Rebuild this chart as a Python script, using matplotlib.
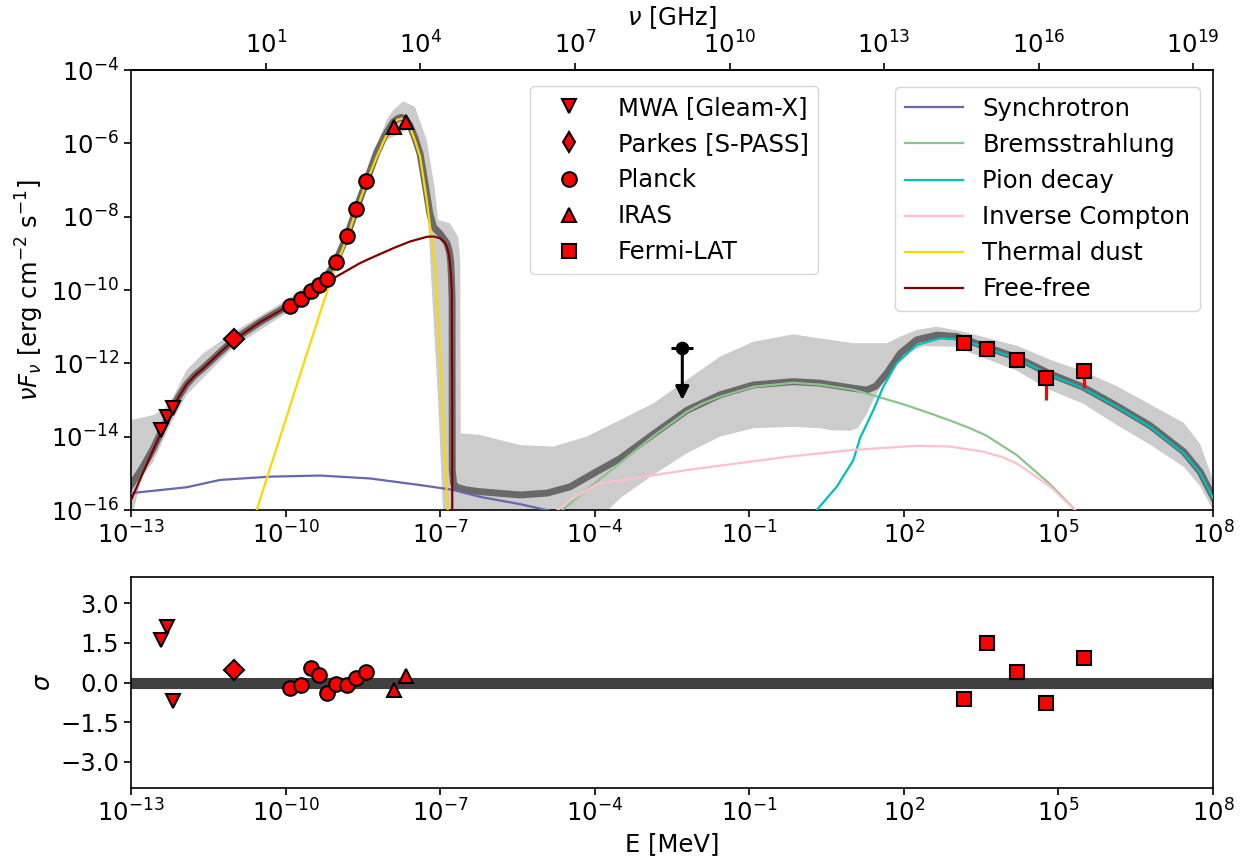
import numpy as np
import matplotlib
matplotlib.use("Agg")
import matplotlib.pyplot as plt
from matplotlib.lines import Line2D
from matplotlib.ticker import FixedLocator, NullLocator, LogFormatterSciNotation

# ---------------- measured SED points (log10 E [MeV], log10 nuFnu [erg cm^-2 s^-1]) ----------------
mwa_logE = [-12.42, -12.31, -12.18]
mwa_logF = [-13.82, -13.47, -13.23]
mwa_sigma = [1.60, 2.12, -0.70]

parkes_logE = [-11.00]
parkes_logF = [-11.34]
parkes_sigma = [0.48]

planck_logE = [-9.91, -9.71, -9.51, -9.35, -9.20, -9.02, -8.81, -8.63, -8.43]
planck_logF = [-10.43, -10.25, -10.03, -9.86, -9.70, -9.24, -8.53, -7.79, -7.03]
planck_sigma = [-0.22, -0.10, 0.55, 0.29, -0.38, -0.04, -0.10, 0.16, 0.38]

iras_logE = [-7.90, -7.67]
iras_logF = [-5.55, -5.41]
iras_sigma = [-0.29, 0.23]

fermi_logE = [3.16, 3.61, 4.20, 4.75, 5.50]
fermi_logF = [-11.45, -11.62, -11.91, -12.41, -12.20]
fermi_rel_err = [0.25, 0.25, 0.30, 0.74, 0.67]
fermi_sigma = [-0.64, 1.49, 0.40, -0.79, 0.93]

# upper limit
ul_logE = -2.30
ul_logF = -11.59
ul_logF_arrow_end = -13.0
ul_logE_halfwidth = 0.21

# ---------------- model components ----------------
sync_logE = [-13.0, -11.92, -11.27, -10.30, -9.33, -8.36, -7.39, -6.75, -6.23, -5.45, -4.81, -3.90]
sync_logF = [-15.54, -15.38, -15.18, -15.09, -15.06, -15.14, -15.32, -15.45, -15.64, -15.84, -16.04, -16.41]

brems_logE = [-4.96, -4.67, -4.16, -3.51, -2.86, -2.21, -1.90, -1.57, -0.92, -0.15, 0.37, 1.02,
              1.54, 2.00, 2.50, 2.90, 3.30, 3.60, 4.19, 4.84, 5.36, 5.61]
brems_logF = [-16.41, -16.05, -15.45, -14.72, -13.98, -13.32, -13.09, -12.91, -12.64, -12.53, -12.58,
              -12.72, -12.93, -13.12, -13.36, -13.56, -13.78, -13.97, -14.50, -15.30, -16.05, -16.41]

pion_logE = [0.12, 0.28, 0.70, 1.02, 1.15, 1.41, 1.60, 1.86, 2.25, 2.70, 3.16, 3.61, 4.19, 4.84,
             5.48, 6.13, 6.78, 7.43, 7.75, 8.0]
pion_logF = [-16.31, -16.05, -15.36, -14.64, -14.04, -13.27, -12.64, -12.00, -11.50, -11.32, -11.36,
             -11.59, -11.86, -12.32, -12.68, -13.18, -13.73, -14.45, -14.99, -15.67]

ic_logE = [-5.00, -4.80, -4.48, -3.95, -2.21, -0.27, 1.02, 2.25, 2.90, 3.54, 3.90, 4.19, 4.84, 5.36, 5.61]
ic_logF = [-16.31, -16.09, -15.73, -15.29, -14.91, -14.55, -14.36, -14.25, -14.27, -14.41, -14.55,
           -14.73, -15.36, -16.05, -16.41]

dust_logE = [-10.65, -10.56, -9.72, -9.07, -8.81, -8.63, -8.43, -8.23, -8.07, -7.91, -7.83, -7.75,
             -7.66, -7.59, -7.49, -7.39, -7.26, -7.16, -7.10, -6.99, -6.90, -6.85, -6.83]
dust_logF = [-16.40, -16.00, -12.32, -9.50, -8.60, -7.84, -7.07, -6.36, -5.86, -5.45, -5.36, -5.32,
             -5.39, -5.55, -5.91, -6.36, -7.55, -8.64, -9.36, -12.09, -14.82, -16.08, -16.54]

ff_logE = [-13.0, -12.57, -12.24, -12.08, -11.92, -11.76, -11.60, -11.30, -11.00, -10.50, -9.98,
           -9.07, -8.56, -8.36, -7.91, -7.59, -7.26, -7.13, -7.00, -6.91, -6.87, -6.83, -6.81,
           -6.79, -6.775, -6.765, -6.765]
ff_logF = [-15.73, -14.36, -13.36, -12.93, -12.57, -12.33, -12.14, -11.74, -11.36, -10.88, -10.46,
           -9.68, -9.27, -9.14, -8.86, -8.68, -8.55, -8.54, -8.59, -8.70, -8.82, -9.02, -9.27,
           -9.60, -10.00, -13.00, -16.80]

# total model and its uncertainty band
total_logE = [-13.0, -12.79, -12.57, -12.24, -12.08, -11.92, -11.76, -11.60, -11.30, -11.00,
              -10.50, -9.98, -9.51, -9.20, -9.02, -8.81, -8.63, -8.43, -8.23, -8.07,
              -7.91, -7.83, -7.75, -7.66, -7.59, -7.49, -7.39, -7.29, -7.20, -7.13,
              -7.00, -6.87, -6.82, -6.795, -6.78, -6.768, -6.765, -6.74, -6.68, -6.50,
              -6.23, -5.45, -4.93, -4.48, -3.97, -3.51, -2.86, -2.21, -1.57, -0.92,
              -0.15, 0.37, 1.02, 1.28, 1.46, 1.67, 1.93, 2.25, 2.64, 3.03,
              3.61, 4.19, 4.84, 5.48, 6.13, 6.78, 7.43, 7.75, 8.0]
total_logF = [-15.32, -14.88, -14.33, -13.35, -12.92, -12.57, -12.32, -12.13, -11.74, -11.35,
              -10.88, -10.45, -10.03, -9.62, -9.20, -8.53, -7.80, -7.03, -6.24, -5.78,
              -5.42, -5.33, -5.29, -5.36, -5.50, -5.85, -6.28, -7.12, -7.92, -8.28,
              -8.47, -8.72, -8.95, -9.24, -9.70, -10.30, -14.90, -15.27, -15.38, -15.45,
              -15.50, -15.59, -15.54, -15.37, -14.96, -14.60, -13.93, -13.28, -12.86, -12.59,
              -12.50, -12.54, -12.68, -12.73, -12.62, -12.27, -11.73, -11.36, -11.23, -11.27,
              -11.56, -11.84, -12.29, -12.65, -13.16, -13.70, -14.41, -14.96, -15.64]

band_hi_logE = [-13.0, -12.57, -12.37, -12.18, -11.92, -11.60, -11.00, -9.98, -9.20, -9.02,
                -8.81, -8.69, -8.30, -8.04, -7.91, -7.72, -7.49, -7.26, -7.10, -7.04,
                -6.81, -6.65, -6.61, -6.60, -6.23, -5.45, -4.80, -4.16, -3.51, -2.86,
                -2.21, -1.57, -0.92, -0.15, 0.37, 1.02, 1.67, 1.93, 2.25, 2.64,
                3.16, 4.19, 4.84, 5.48, 6.13, 6.78, 7.43, 7.75, 8.0]
band_hi_logF = [-13.55, -13.41, -13.27, -12.91, -12.18, -11.73, -11.14, -10.27, -9.50, -9.02,
                -8.35, -7.73, -6.36, -5.36, -5.09, -4.86, -5.00, -5.91, -7.27, -8.09,
                -8.18, -8.55, -9.18, -13.91, -13.95, -14.23, -14.27, -14.00, -13.55, -13.09,
                -12.45, -11.82, -11.41, -11.21, -11.32, -11.45, -11.45, -11.27, -11.09, -11.00,
                -11.14, -11.52, -11.90, -12.22, -12.62, -13.12, -13.62, -14.20, -15.18]

band_lo_logE = [-13.0, -12.79, -12.57, -12.24, -11.92, -11.60, -11.00, -9.98, -9.20, -8.81,
                -8.43, -8.04, -7.59, -7.36, -7.23, -7.16, -7.04, -6.93, -4.09, -3.51,
                -2.86, -2.21, -1.57, -0.92, -0.15, 0.37, 0.57, 0.96, 1.11, 1.27,
                1.46, 1.67, 1.99, 2.38, 3.03, 3.16, 4.19, 4.84, 5.48, 6.13,
                6.78, 7.43, 7.75, 8.0]
band_lo_logF = [-16.30, -15.10, -14.69, -13.68, -12.86, -12.40, -11.55, -10.63, -9.86, -8.75,
                -7.25, -5.91, -5.60, -6.82, -8.18, -10.00, -13.00, -16.50, -16.50, -15.68,
                -15.04, -14.45, -14.00, -13.77, -13.73, -13.77, -13.82, -13.84, -13.76, -13.41,
                -12.86, -12.32, -11.77, -11.53, -11.55, -11.64, -12.20, -12.73, -13.10, -13.68,
                -14.22, -14.82, -15.35, -16.00]

H_MEV_PER_GHZ = 4.135667696e-12

# ---------------- style ----------------
plt.rcParams.update({
    "font.family": "DejaVu Sans",
    "font.size": 17.5,
    "mathtext.fontset": "dejavusans",
    "axes.linewidth": 1.2,
    "xtick.major.size": 5,
    "ytick.major.size": 5,
    "xtick.major.width": 1.2,
    "ytick.major.width": 1.2,
    "legend.handlelength": 2.4,
})

def p10(v):
    return 10.0 ** np.asarray(v, dtype=float)

fig = plt.figure(figsize=(12.47, 8.61), dpi=100)
ax = fig.add_axes([131 / 1247, 351 / 861, 1082 / 1247, 440 / 861])
axr = fig.add_axes([131 / 1247, 73 / 861, 1082 / 1247, 211 / 861])

# uncertainty band and total model
band_x = np.concatenate([p10(band_hi_logE), p10(band_lo_logE)[::-1]])
band_y = np.concatenate([p10(band_hi_logF), p10(band_lo_logF)[::-1]])
ax.fill(band_x, band_y, color="#cccccc", lw=0, zorder=1)
ax.plot(p10(total_logE), p10(total_logF), color="dimgray", lw=5, zorder=2,
        solid_joinstyle="round")

# components
comp_lw = 1.6
h_sync, = ax.plot(p10(sync_logE), p10(sync_logF), color="#6767b0", lw=comp_lw, zorder=3, label="Synchrotron")
h_brem, = ax.plot(p10(brems_logE), p10(brems_logF), color="#8cc48c", lw=comp_lw, zorder=3, label="Bremsstrahlung")
h_pion, = ax.plot(p10(pion_logE), p10(pion_logF), color="c", lw=comp_lw, zorder=3, label="Pion decay")
h_ic, = ax.plot(p10(ic_logE), p10(ic_logF), color="pink", lw=comp_lw, zorder=3, label="Inverse Compton")
h_dust, = ax.plot(p10(dust_logE), p10(dust_logF), color="gold", lw=comp_lw, zorder=3, label="Thermal dust")
h_ff, = ax.plot(p10(ff_logE), p10(ff_logF), color="maroon", lw=comp_lw, zorder=3, label="Free-free")

# data points
mk = dict(ls="none", mfc="red", mec="black", mew=1.5, zorder=6)
ms = 10.5
fermi_F = p10(fermi_logF)
ax.errorbar(p10(fermi_logE), fermi_F, yerr=np.asarray(fermi_rel_err) * fermi_F, fmt="none",
            ecolor="red", elinewidth=2.2, zorder=5)
ax.plot(p10(mwa_logE), p10(mwa_logF), marker="v", ms=ms, **mk)
ax.plot(p10(parkes_logE), p10(parkes_logF), marker="D", ms=ms * 0.95, **mk)
ax.plot(p10(planck_logE), p10(planck_logF), marker="o", ms=ms, **mk)
ax.plot(p10(iras_logE), p10(iras_logF), marker="^", ms=ms, **mk)
ax.plot(p10(fermi_logE), fermi_F, marker="s", ms=ms, **mk)

# upper limit
ul_x = 10.0 ** ul_logE
ul_y = 10.0 ** ul_logF
ax.errorbar([ul_x], [ul_y],
            xerr=[[ul_x * (1 - 10.0 ** -ul_logE_halfwidth)], [ul_x * (10.0 ** ul_logE_halfwidth - 1)]],
            fmt="o", color="black", ms=8.8, elinewidth=2.2, zorder=6)
ax.annotate("", xy=(ul_x, 10.0 ** ul_logF_arrow_end), xytext=(ul_x, ul_y),
            arrowprops=dict(arrowstyle="-|>", color="black", lw=2.2, mutation_scale=20,
                            shrinkA=0, shrinkB=0), zorder=6)

# axes formatting
ax.set_xscale("log")
ax.set_yscale("log")
ax.set_xlim(1e-13, 1e8)
ax.set_ylim(1e-16, 1e-4)
xt = [10.0 ** k for k in range(-13, 9, 3)]
ax.xaxis.set_major_locator(FixedLocator(xt))
ax.xaxis.set_minor_locator(NullLocator())
ax.xaxis.set_major_formatter(LogFormatterSciNotation())
ax.yaxis.set_major_locator(FixedLocator([10.0 ** k for k in range(-16, -3, 2)]))
ax.yaxis.set_minor_locator(NullLocator())
ax.yaxis.set_major_formatter(LogFormatterSciNotation())
ax.set_ylabel(r"$\nu F_{\nu}$ [erg cm$^{-2}$ s$^{-1}$]")

sec = ax.secondary_xaxis("top", functions=(lambda e: np.asarray(e) / H_MEV_PER_GHZ,
                                          lambda n: np.asarray(n) * H_MEV_PER_GHZ))
sec.xaxis.set_major_locator(FixedLocator([10.0 ** k for k in range(1, 20, 3)]))
sec.xaxis.set_minor_locator(NullLocator())
sec.xaxis.set_major_formatter(LogFormatterSciNotation())
sec.set_xlabel(r"$\nu$ [GHz]")

# legends
proxy = dict(ls="none", mfc="red", mec="black", mew=1.5, ms=ms)
data_handles = [
    Line2D([], [], marker="v", **proxy),
    Line2D([], [], marker="d", **proxy),
    Line2D([], [], marker="o", **proxy),
    Line2D([], [], marker="^", **proxy),
    Line2D([], [], marker="s", **proxy),
]
data_labels = ["MWA [Gleam-X]", "Parkes [S-PASS]", "Planck", "IRAS", "Fermi-LAT"]
leg1 = ax.legend(data_handles, data_labels, loc="upper left", bbox_to_anchor=(0.3688, 0.9636),
                 borderaxespad=0)
ax.add_artist(leg1)
ax.legend(handles=[h_sync, h_brem, h_pion, h_ic, h_dust, h_ff], loc="upper right",
          bbox_to_anchor=(0.988, 0.9614), borderaxespad=0)

# residuals
axr.axhline(0, color="#404040", lw=8, zorder=1)
rk = dict(ls="none", mfc="red", mec="black", mew=1.5, zorder=3)
axr.plot(p10(mwa_logE), mwa_sigma, marker="v", ms=ms, **rk)
axr.plot(p10(parkes_logE), parkes_sigma, marker="D", ms=ms * 0.95, **rk)
axr.plot(p10(planck_logE), planck_sigma, marker="o", ms=ms, **rk)
axr.plot(p10(iras_logE), iras_sigma, marker="^", ms=ms, **rk)
axr.plot(p10(fermi_logE), fermi_sigma, marker="s", ms=ms, **rk)
axr.set_xscale("log")
axr.set_xlim(1e-13, 1e8)
axr.xaxis.set_major_locator(FixedLocator(xt))
axr.xaxis.set_minor_locator(NullLocator())
axr.xaxis.set_major_formatter(LogFormatterSciNotation())
axr.set_ylim(-4, 4)
axr.set_yticks([-3.0, -1.5, 0.0, 1.5, 3.0])
axr.set_ylabel(r"$\sigma$")
axr.set_xlabel("E [MeV]")

fig.savefig("out.png", dpi=100)
